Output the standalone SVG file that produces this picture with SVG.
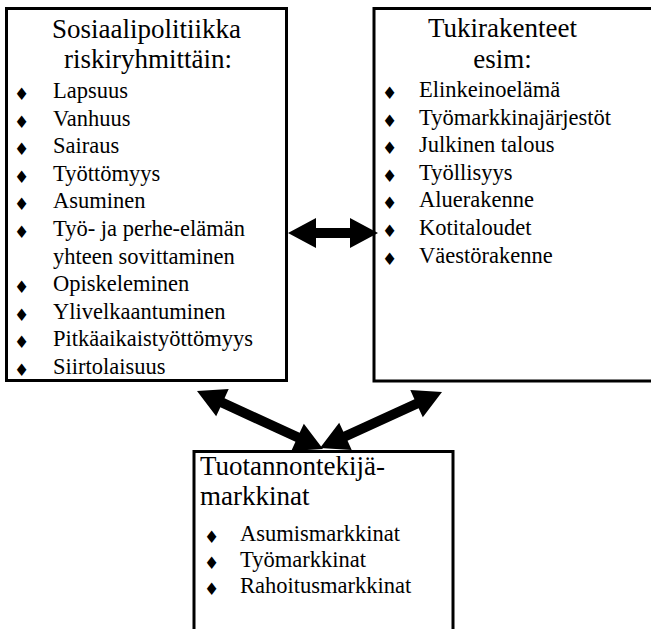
<svg xmlns="http://www.w3.org/2000/svg" width="651" height="629" viewBox="0 0 651 629">
<style>
.box{fill:#fff;stroke:#000;stroke-width:3}
.t{font-family:"Liberation Serif","Times New Roman",serif;fill:#000}
.title{font-size:27px}
.item{font-size:22.5px}
.b{font-family:"DejaVu Sans",sans-serif;font-size:17px;fill:#000;text-anchor:middle}
.arrow{fill:#000;stroke:none}
</style>
<rect width="651" height="629" fill="#fff"/>
<g id="node-sosiaalipolitiikka">
<rect class="box" x="6.5" y="8.5" width="280" height="372"/>
<text class="t title" x="146.5" y="38" text-anchor="middle">Sosiaalipolitiikka</text>
<text class="t title" x="148" y="68" text-anchor="middle">riskiryhmittäin:</text>
<g class="b">
<text x="21.5" y="100">♦</text><text x="21.5" y="127.6">♦</text><text x="21.5" y="155.2">♦</text><text x="21.5" y="182.8">♦</text><text x="21.5" y="210.4">♦</text><text x="21.5" y="238">♦</text><text x="21.5" y="293.2">♦</text><text x="21.5" y="320.8">♦</text><text x="21.5" y="348.4">♦</text><text x="21.5" y="376">♦</text>
</g>
<g class="t item">
<text x="53" y="98">Lapsuus</text>
<text x="53" y="125.6">Vanhuus</text>
<text x="53" y="153.2">Sairaus</text>
<text x="53" y="180.8">Työttömyys</text>
<text x="53" y="208.4">Asuminen</text>
<text x="53" y="236">Työ- ja perhe-elämän</text>
<text x="53" y="263.6">yhteen sovittaminen</text>
<text x="53" y="291.2">Opiskeleminen</text>
<text x="53" y="318.8">Ylivelkaantuminen</text>
<text x="53" y="346.4">Pitkäaikaistyöttömyys</text>
<text x="53" y="374">Siirtolaisuus</text>
</g>
</g>
<g id="node-tukirakenteet">
<rect class="box" x="374" y="8.5" width="290" height="372.5"/>
<text class="t title" x="502.5" y="37" text-anchor="middle">Tukirakenteet</text>
<text class="t title" x="502.5" y="68" text-anchor="middle">esim:</text>
<g class="b">
<text x="389.5" y="99">♦</text><text x="389.5" y="126.6">♦</text><text x="389.5" y="154.2">♦</text><text x="389.5" y="181.8">♦</text><text x="389.5" y="209.4">♦</text><text x="389.5" y="237">♦</text><text x="389.5" y="264.6">♦</text>
</g>
<g class="t item">
<text x="419" y="97">Elinkeinoelämä</text>
<text x="419" y="124.6">Työmarkkinajärjestöt</text>
<text x="419" y="152.2">Julkinen talous</text>
<text x="419" y="179.8">Työllisyys</text>
<text x="419" y="207.4">Aluerakenne</text>
<text x="419" y="235">Kotitaloudet</text>
<text x="419" y="262.6">Väestörakenne</text>
</g>
</g>
<g id="node-tuotannontekijamarkkinat">
<rect class="box" x="194" y="451.5" width="259" height="200"/>
<text class="t title" x="200" y="475">Tuotannontekijä-</text>
<text class="t title" x="200" y="505">markkinat</text>
<g class="b">
<text x="211.5" y="542.7">♦</text><text x="211.5" y="568.7">♦</text><text x="211.5" y="594.7">♦</text>
</g>
<g class="t item">
<text x="240" y="540.7">Asumismarkkinat</text>
<text x="240" y="566.7">Työmarkkinat</text>
<text x="240" y="592.7">Rahoitusmarkkinat</text>
</g>
</g>
<g id="connectors">
<polygon class="arrow" points="288,233 316,218 316,228 350,228 350,218 378,233 350,248 350,238 316,238 316,248"/>
<polygon class="arrow" points="197,391 216.17,416.34 220.35,407.25 295.47,441.83 291.29,450.92 323,449 303.83,423.66 299.65,432.75 224.53,398.17 228.71,389.08"/>
<polygon class="arrow" points="442,392 422.81,417.32 418.64,408.23 347.54,440.87 351.71,449.96 320,448 339.19,422.68 343.36,431.77 414.46,399.13 410.29,390.04"/>
</g>
</svg>
